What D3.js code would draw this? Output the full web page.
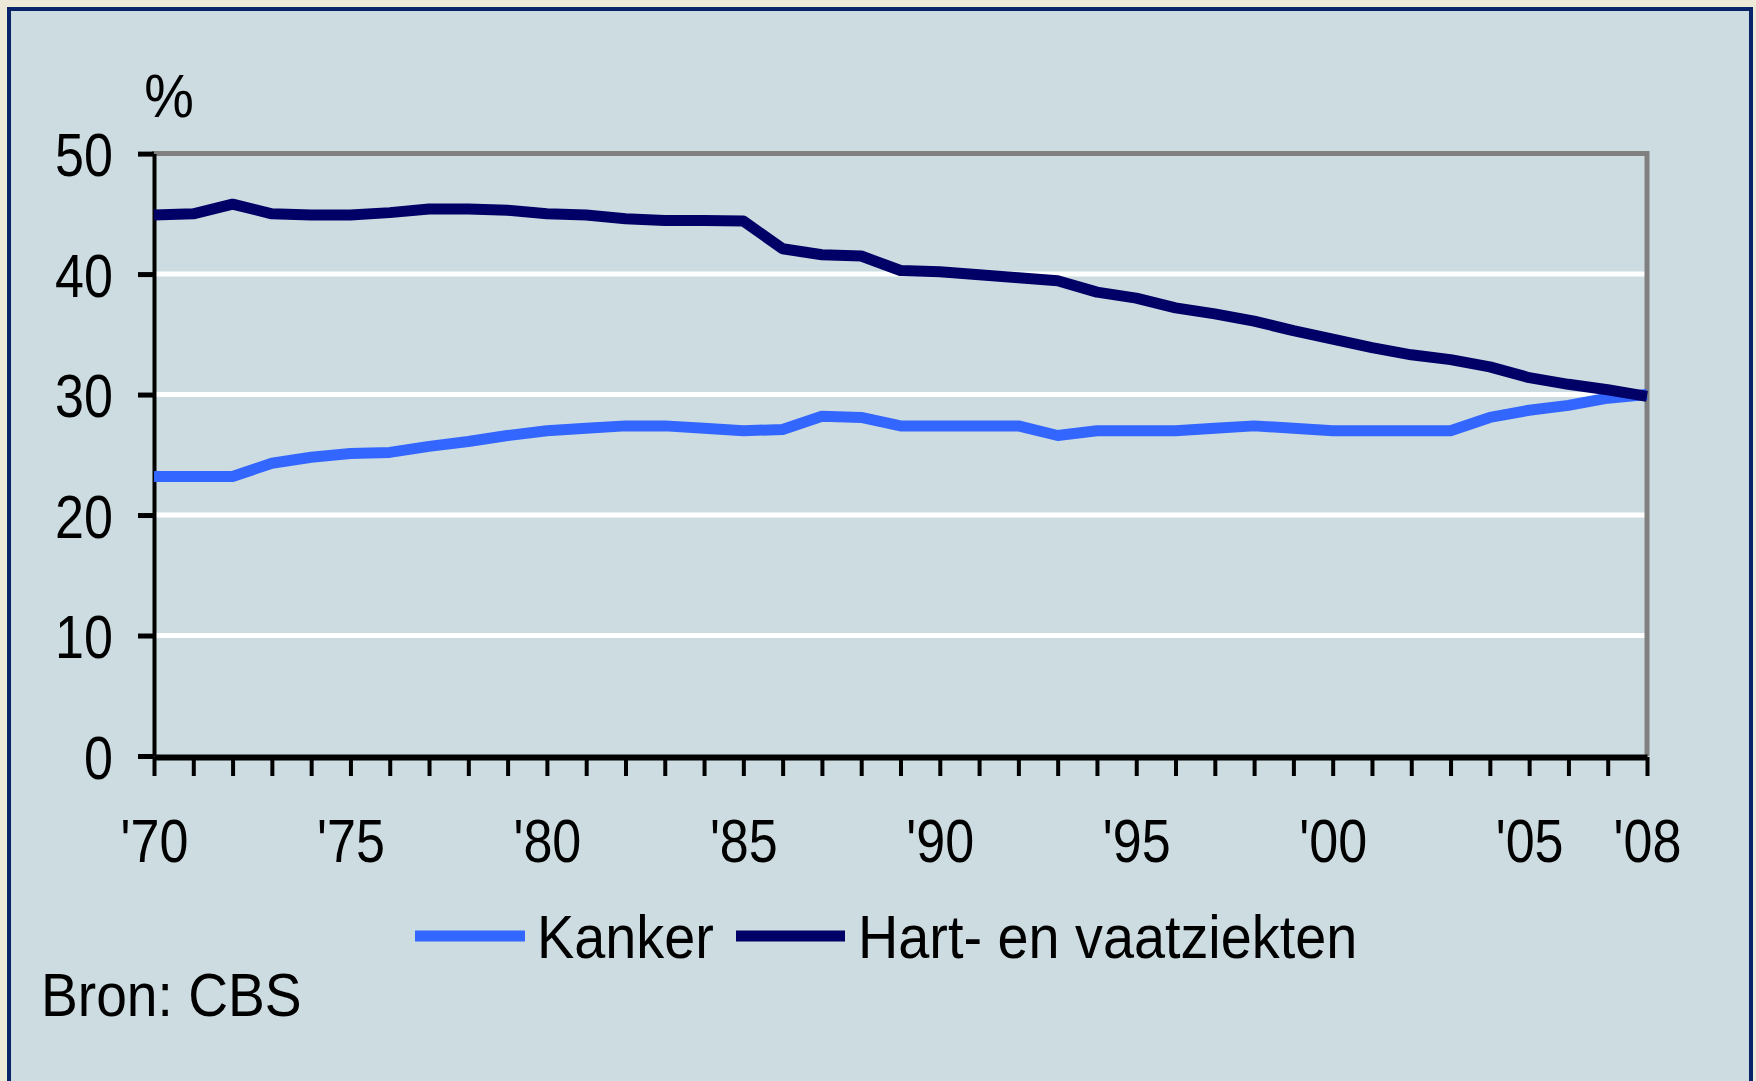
<!DOCTYPE html>
<html>
<head>
<meta charset="utf-8">
<script src="https://cdn.jsdelivr.net/npm/d3@7"></script>
<style>
  html, body { margin: 0; padding: 0; background: #ECE9D8; }
  svg { display: block; }
</style>
</head>
<body>
<div id="chart"></div>
<script>
// jaartallen
const years = [1970, 1971, 1972, 1973, 1974, 1975, 1976, 1977, 1978, 1979,
  1980, 1981, 1982, 1983, 1984, 1985, 1986, 1987, 1988, 1989,
  1990, 1991, 1992, 1993, 1994, 1995, 1996, 1997, 1998, 1999,
  2000, 2001, 2002, 2003, 2004, 2005, 2006, 2007, 2008];

// aandeel in sterfte, %
const kanker = [23.2, 23.2, 23.2, 24.3, 24.8, 25.1, 25.2, 25.7, 26.1, 26.6,
  27.0, 27.2, 27.4, 27.4, 27.2, 27.0, 27.1, 28.2, 28.1, 27.4,
  27.4, 27.4, 27.4, 26.6, 27.0, 27.0, 27.0, 27.2, 27.4, 27.2,
  27.0, 27.0, 27.0, 27.0, 28.1, 28.7, 29.1, 29.7, 30.0];

const hartVaat = [44.9, 45.0, 45.8, 45.0, 44.9, 44.9, 45.1, 45.4, 45.4, 45.3,
  45.0, 44.9, 44.6, 44.45, 44.45, 44.4, 42.1, 41.6, 41.5, 40.3,
  40.2, 39.95, 39.7, 39.45, 38.5, 38.0, 37.2, 36.7, 36.1, 35.3,
  34.6, 33.9, 33.3, 32.9, 32.3, 31.4, 30.85, 30.4, 29.85];

const yTicks = [0, 10, 20, 30, 40, 50];
const xLabels = { 1970: "'70", 1975: "'75", 1980: "'80", 1985: "'85", 1990: "'90",
  1995: "'95", 2000: "'00", 2005: "'05", 2008: "'08" };

const seriesNames = ['Kanker', 'Hart- en vaatziekten'];
const seriesColors = ['#3366FF', '#000066'];

const W = 1756, H = 1081;
const FONT = "'Liberation Sans', Arial, sans-serif";
const FS = 62;

const svg = d3.select('#chart').append('svg')
  .attr('width', W)
  .attr('height', H);

svg.append('rect').attr('width', W).attr('height', H).attr('fill', '#ECE9D8');
svg.append('rect')
  .attr('x', 9).attr('y', 9)
  .attr('width', 1742).attr('height', 1120)
  .attr('fill', '#CDDCE1')
  .attr('stroke', '#0A246A')
  .attr('stroke-width', 4);

const x = d3.scaleLinear().domain([1970, 2008]).range([154, 1647]);
const y = d3.scaleLinear().domain([0, 50]).range([756, 153.6]);

// tekst, horizontaal iets smaller zoals het origineel
function label(parent, px, py, str, anchor, sx) {
  return parent.append('text')
    .attr('transform', `translate(${px},${py}) scale(${sx},1)`)
    .attr('text-anchor', anchor)
    .style('font-family', FONT)
    .style('font-size', FS + 'px')
    .attr('fill', '#000')
    .text(str);
}

// rasterlijnen
svg.append('g')
  .selectAll('line')
  .data(yTicks.filter(d => d > 0 && d < 50))
  .enter().append('line')
  .attr('x1', x(1970) + 2).attr('x2', x(2008) - 2)
  .attr('y1', d => y(d)).attr('y2', d => y(d))
  .attr('stroke', '#fff')
  .attr('stroke-width', 5);

// grijze kader boven en rechts
svg.append('path')
  .attr('d', `M${x(1970) - 2},${y(50)} H${x(2008)} V${y(0)}`)
  .attr('fill', 'none')
  .attr('stroke', '#808080')
  .attr('stroke-width', 5);

// y-as
const sxDigits = 0.84;
svg.append('g')
  .attr('transform', `translate(${x(1970)},0)`)
  .call(d3.axisLeft(y).tickValues(yTicks).tickSize(16).tickSizeOuter(0))
  .call(g => g.select('.domain').attr('stroke', '#000').attr('stroke-width', 4))
  .call(g => g.selectAll('.tick line').attr('stroke', '#000').attr('stroke-width', 5))
  .call(g => g.selectAll('.tick text')
    .attr('x', -41 / sxDigits)
    .attr('dy', '0.36em')
    .attr('transform', `scale(${sxDigits},1)`)
    .style('font-family', FONT)
    .style('font-size', FS + 'px')
    .attr('fill', '#000'));

// x-as
svg.append('g')
  .attr('transform', `translate(0,${y(0) + 1})`)
  .call(d3.axisBottom(x).tickValues(years).tickSize(19).tickSizeOuter(0)
    .tickFormat(d => xLabels[d] || ''))
  .call(g => g.select('.domain').attr('stroke', '#000').attr('stroke-width', 6))
  .call(g => g.selectAll('.tick line').attr('stroke', '#000').attr('stroke-width', 4))
  .call(g => g.selectAll('.tick text')
    .attr('y', 105)
    .attr('dy', 0)
    .attr('transform', `scale(${sxDigits},1)`)
    .style('font-family', FONT)
    .style('font-size', FS + 'px')
    .attr('fill', '#000'));

// lijnen
const line = d3.line()
  .x((d, i) => x(years[i]))
  .y(d => y(d));

[kanker, hartVaat].forEach((s, i) => {
  svg.append('path')
    .datum(s)
    .attr('fill', 'none')
    .attr('stroke', seriesColors[i])
    .attr('stroke-width', 11)
    .attr('stroke-linejoin', 'round')
    .attr('d', line);
});

// eenheid
label(svg, 169, 117, '%', 'middle', 0.9);

// legenda
const legendPos = [{ x1: 415, x2: 525, tx: 537 }, { x1: 736, x2: 845, tx: 858 }];
legendPos.forEach((p, i) => {
  svg.append('line')
    .attr('x1', p.x1).attr('x2', p.x2)
    .attr('y1', 936).attr('y2', 936)
    .attr('stroke', seriesColors[i])
    .attr('stroke-width', 11);
  label(svg, p.tx, 958, seriesNames[i], 'start', 0.9);
});

// bron
label(svg, 41, 1016, 'Bron: CBS', 'start', 0.89);
</script>
</body>
</html>
